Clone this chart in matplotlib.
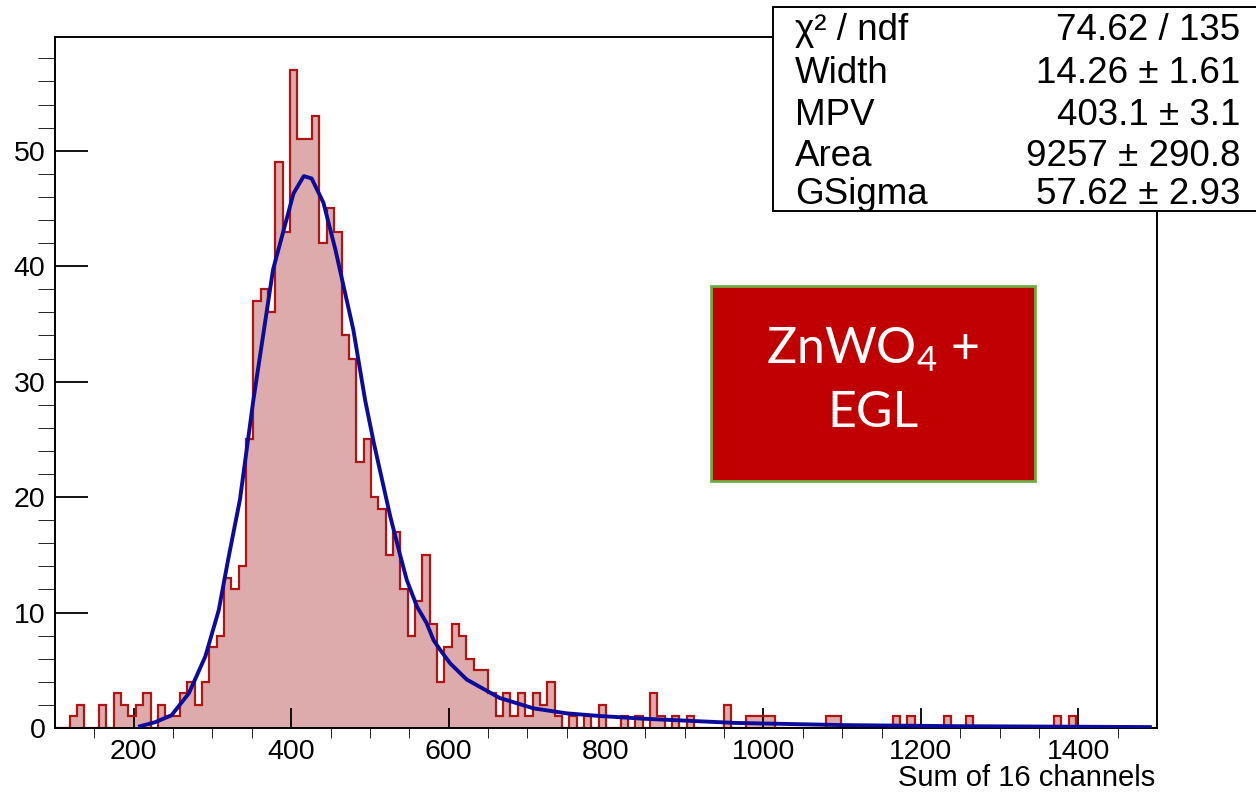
import numpy as np
import matplotlib
matplotlib.use('Agg')
import matplotlib.pyplot as plt
from matplotlib.patches import Rectangle

plt.rcParams['font.family'] = ['Liberation Sans', 'DejaVu Sans']

# histogram: 150 bins from 100 to 1500
x_min, x_max, n_bins = 100, 1500, 150
counts = [0, 0, 1, 2, 0, 0, 2, 0, 3, 2,
          1, 2, 3, 0, 2, 1, 1, 3, 4, 2,
          4, 7, 8, 13, 12, 14, 25, 37, 38, 36,
          49, 43, 57, 51, 51, 53, 42, 45, 43, 34,
          32, 23, 25, 20, 19, 15, 17, 12, 8, 11,
          15, 9, 4, 7, 9, 8, 6, 5, 5, 3,
          1, 3, 1, 3, 1, 3, 2, 4, 1, 0,
          1, 0, 1, 0, 2, 0, 0, 1, 0, 1,
          0, 3, 1, 0, 1, 0, 1, 0, 0, 0,
          0, 2, 0, 0, 1, 1, 1, 1, 0, 0,
          0, 0, 0, 0, 0, 1, 1, 0, 0, 0,
          0, 0, 0, 0, 1, 0, 1, 0, 0, 0,
          0, 1, 0, 0, 1, 0, 0, 0, 0, 0,
          0, 0, 0, 0, 0, 0, 1, 0, 1, 0,
          0, 0, 0, 0, 0, 0, 0, 0, 0, 0]

# fitted Landau x Gauss curve
fit_x = [208, 227, 248, 270, 291, 308, 320, 335, 352, 377, 403, 416, 426,
         441, 456, 479, 494, 505, 526, 538, 547, 560, 572, 581, 589, 602,
         623, 665, 708, 750, 792, 849, 964, 1103, 1241, 1491]
fit_y = [0.15, 0.5, 1.1, 3.0, 6.2, 10.2, 14.6, 19.8, 28.4, 39.7, 46.3, 47.8, 47.6,
         45.5, 41.5, 34.5, 28.4, 24.7, 18.3, 15.1, 12.8, 10.5, 9.1, 7.6, 6.8, 5.6,
         4.2, 2.6, 1.7, 1.27, 1.04, 0.8, 0.44, 0.25, 0.16, 0.08]

stat_names = ['χ² / ndf', 'Width', 'MPV', 'Area', 'GSigma']
stat_values = ['74.62 / 135', '14.26 ± 1.61', '403.1 ± 3.1', '9257 ± 290.8', '57.62 ± 2.93']

W, H = 1256, 793
fig = plt.figure(figsize=(W / 100, H / 100), dpi=100)
ax = fig.add_axes([55 / W, 1 - 728 / H, (1157 - 55) / W, (728 - 37) / H])

edges = np.linspace(x_min, x_max, n_bins + 1)
ax.stairs(counts, edges, fill=True, color='#ddabab', zorder=1)
ax.stairs(counts, edges, color='#b01515', linewidth=1.6, zorder=2)
ax.plot(fit_x, fit_y, color='#0c0c9c', linewidth=2.8, zorder=3)

ax.set_xlim(x_min, x_max)
ax.set_ylim(0, 59.85)

ax.set_xticks(range(200, 1401, 200))
ax.set_xticks([v for v in range(150, 1500, 50) if v % 200 != 0], minor=True)
ax.set_yticks(range(0, 51, 10))
ax.set_yticks([v for v in range(2, 59, 2) if v % 10 != 0], minor=True)

ax.tick_params(direction='in', top=False, right=False, labelsize=20.5, width=1.3)
ax.tick_params(axis='x', which='major', length=14.4, pad=8)
ax.tick_params(axis='x', which='minor', length=7.2)
ax.tick_params(axis='y', which='major', length=23.8, pad=7)
ax.tick_params(axis='y', which='minor', length=12.2)
for s in ax.spines.values():
    s.set_linewidth(1.4)

fig.text(1155 / W, 1 - 786 / H, 'Sum of 16 channels', ha='right', va='baseline', fontsize=21)

# stats box (runs off the right edge like the original)
fig.patches.append(Rectangle((772.5 / W, 1 - 211 / H), 500 / W, 204 / H,
                             transform=fig.transFigure, facecolor='white',
                             edgecolor='black', linewidth=1.4, zorder=5))
baselines = [40, 83, 125, 166.5, 204]
for name, val, b in zip(stat_names, stat_values, baselines):
    fig.text(795 / W, 1 - b / H, name, ha='left', va='baseline', fontsize=26.5, zorder=6)
    fig.text(1240 / W, 1 - b / H, val, ha='right', va='baseline', fontsize=26.5, zorder=6)

# label box
fig.patches.append(Rectangle((711 / W, 1 - 481 / H), 324 / W, 195 / H,
                             transform=fig.transFigure, facecolor='#c00000',
                             edgecolor='#70ad47', linewidth=2, zorder=5))
fig.text(873 / W, 1 - 350 / H, r'ZnWO$_\mathregular{4}$ +', ha='center', va='center',
         color='white', fontsize=36, family='Lato', zorder=6)
fig.text(873 / W, 1 - 413 / H, 'EGL', ha='center', va='center',
         color='white', fontsize=36, family='Lato', zorder=6)

fig.savefig('out.png', dpi=100)
